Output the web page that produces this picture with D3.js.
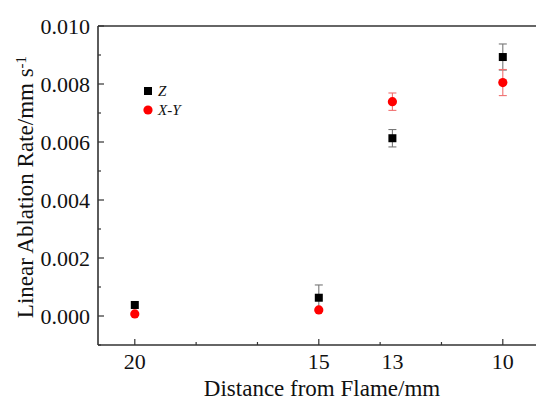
<!DOCTYPE html>
<html>
<head>
<meta charset="utf-8">
<script src="https://cdn.jsdelivr.net/npm/d3@7"></script>
<style>
  body { margin: 0; background: #fff; }
</style>
</head>
<body>
<div id="chart"></div>
<script>
// distances from flame (mm) and ablation rates (mm/s)
let distances = [20, 15, 13, 10];
let zRate = [0.00038, 0.00063, 0.00613, 0.00893];
let zErr = [0, 0.00044, 0.0003, 0.00045];
let xyRate = [0.00007, 0.00021, 0.00739, 0.00805];
let xyErr = [0, 0, 0.0003, 0.00045];

let xTickLabels = [20, 15, 13, 10];
let yTicks = [0, 0.002, 0.004, 0.006, 0.008, 0.010];

let width = 536, height = 402;
let plotLeft = 98, plotBottom = 345, plotTop = 26;
let serif = "'Liberation Serif', 'Times New Roman', Times, 'DejaVu Serif', serif";

let svg = d3.select("#chart").append("svg")
  .attr("width", width).attr("height", height)
  .style("font-family", serif);

let xScale = d3.scaleLinear().domain([21, 9]).range([plotLeft, plotLeft + 12 * 36.8]);
let yScale = d3.scaleLinear().domain([-0.001, 0.010]).range([plotBottom, plotTop]);

let axisColor = "#333";

// frame lines (left, bottom, top)
svg.append("line")
  .attr("x1", plotLeft).attr("x2", plotLeft).attr("y1", plotTop).attr("y2", plotBottom)
  .attr("stroke", axisColor).attr("stroke-width", 1.6);
svg.append("line")
  .attr("x1", plotLeft).attr("x2", xScale(9)).attr("y1", plotBottom).attr("y2", plotBottom)
  .attr("stroke", axisColor).attr("stroke-width", 1.6);
svg.append("line")
  .attr("x1", plotLeft).attr("x2", xScale(9)).attr("y1", plotTop).attr("y2", plotTop)
  .attr("stroke", axisColor).attr("stroke-width", 1.6);

// y ticks (major + minor, pointing inward)
let yMinor = d3.range(-1, 11).map(i => i * 0.001);
svg.append("g").selectAll("line")
  .data(yMinor)
  .enter().append("line")
  .attr("x1", plotLeft)
  .attr("x2", (d, i) => plotLeft + ((i + 1) % 2 === 0 ? 6 : 3))
  .attr("y1", d => yScale(d)).attr("y2", d => yScale(d))
  .attr("stroke", axisColor).attr("stroke-width", 1.2);

svg.append("g").selectAll("text")
  .data(yTicks)
  .enter().append("text")
  .attr("x", plotLeft - 8)
  .attr("y", d => yScale(d))
  .attr("dy", "0.35em")
  .attr("text-anchor", "end")
  .attr("fill", "#111")
  .style("font-family", serif)
  .style("font-size", "22px")
  .text(d => d3.format(".3f")(d));

// x ticks: majors at 20, 15, 10 with minor thirds
let xMajor = [20, 15, 10];
let xMinor = [20 - 5 / 3, 20 - 10 / 3, 15 - 5 / 3, 15 - 10 / 3];
svg.append("g").selectAll("line")
  .data(xMajor)
  .enter().append("line")
  .attr("x1", d => xScale(d)).attr("x2", d => xScale(d))
  .attr("y1", plotBottom).attr("y2", plotBottom - 6)
  .attr("stroke", axisColor).attr("stroke-width", 1.2);
svg.append("g").selectAll("line")
  .data(xMinor)
  .enter().append("line")
  .attr("x1", d => xScale(d)).attr("x2", d => xScale(d))
  .attr("y1", plotBottom).attr("y2", plotBottom - 3)
  .attr("stroke", axisColor).attr("stroke-width", 1.2);

svg.append("g").selectAll("text")
  .data(xTickLabels)
  .enter().append("text")
  .attr("x", d => xScale(d))
  .attr("y", plotBottom + 24)
  .attr("text-anchor", "middle")
  .attr("fill", "#111")
  .style("font-family", serif)
  .style("font-size", "22px")
  .text(d => d);

// axis titles
svg.append("text")
  .attr("x", 322).attr("y", 396)
  .attr("text-anchor", "middle")
  .attr("fill", "#111")
  .style("font-family", serif)
  .style("font-size", "23px")
  .text("Distance from Flame/mm");

let yTitle = svg.append("text")
  .attr("transform", "translate(33, 187) rotate(-90)")
  .attr("text-anchor", "middle")
  .attr("fill", "#111")
  .style("font-family", serif)
  .style("font-size", "23px");
yTitle.append("tspan").text("Linear Ablation Rate/mm s");
yTitle.append("tspan").attr("dy", "-0.5em").style("font-size", "15px").text("-1");

// error bars
function errorBars(values, errs, color) {
  let g = svg.append("g").attr("stroke", color).attr("stroke-width", 1.1);
  distances.forEach((d, i) => {
    if (errs[i] <= 0) return;
    let x = xScale(d);
    let y1 = yScale(values[i] + errs[i]);
    let y2 = yScale(values[i] - errs[i]);
    g.append("line").attr("x1", x).attr("x2", x).attr("y1", y1).attr("y2", y2);
    g.append("line").attr("x1", x - 4).attr("x2", x + 4).attr("y1", y1).attr("y2", y1);
    g.append("line").attr("x1", x - 4).attr("x2", x + 4).attr("y1", y2).attr("y2", y2);
  });
}
errorBars(zRate, zErr, "#777");
errorBars(xyRate, xyErr, "#f07070");

// markers
svg.append("g").selectAll("rect")
  .data(distances)
  .enter().append("rect")
  .attr("x", (d, i) => xScale(d) - 4)
  .attr("y", (d, i) => yScale(zRate[i]) - 4)
  .attr("width", 8).attr("height", 8)
  .attr("fill", "#000");

svg.append("g").selectAll("circle")
  .data(distances)
  .enter().append("circle")
  .attr("cx", d => xScale(d))
  .attr("cy", (d, i) => yScale(xyRate[i]))
  .attr("r", 4.6)
  .attr("fill", "#f00");

// legend
svg.append("rect").attr("x", 144).attr("y", 87).attr("width", 8).attr("height", 8).attr("fill", "#000");
svg.append("text").attr("x", 158).attr("y", 96)
  .attr("fill", "#111").style("font-family", serif)
  .style("font-size", "15px").style("font-style", "italic").text("Z");
svg.append("circle").attr("cx", 148).attr("cy", 110).attr("r", 4.6).attr("fill", "#f00");
svg.append("text").attr("x", 158).attr("y", 115)
  .attr("fill", "#111").style("font-family", serif)
  .style("font-size", "15px").style("font-style", "italic").text("X-Y");
</script>
</body>
</html>
